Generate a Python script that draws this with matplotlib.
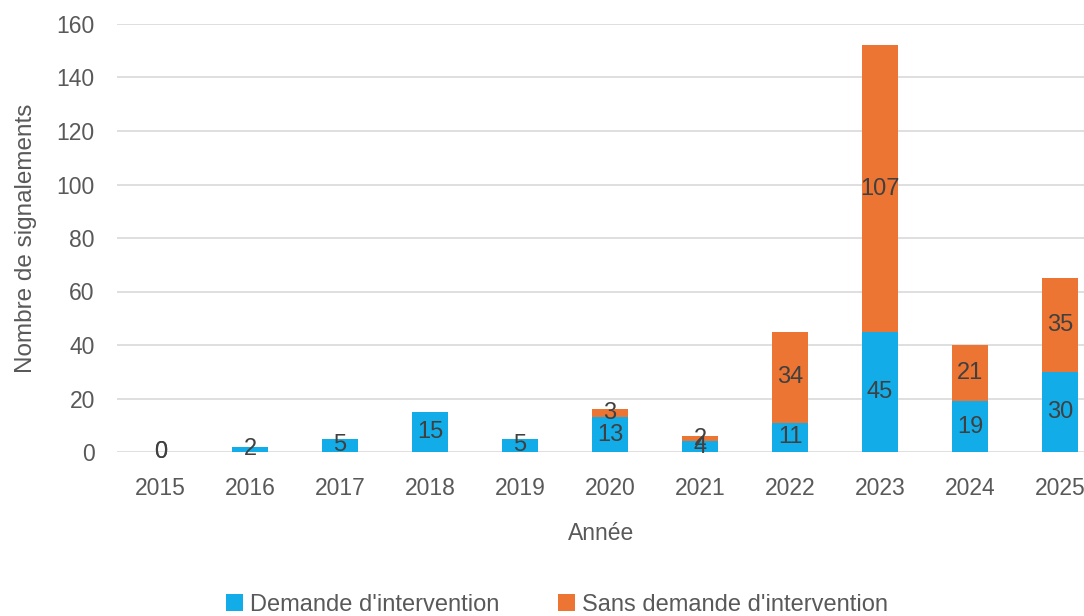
import numpy as np
import matplotlib.pyplot as plt

plt.rcParams['font.family'] = ['Liberation Sans', 'DejaVu Sans']

annees = ['2015', '2016', '2017', '2018', '2019', '2020', '2021', '2022', '2023', '2024', '2025']
demande = [0, 2, 5, 15, 5, 13, 4, 11, 45, 19, 30]
sans_demande = [0, None, None, None, None, 3, 2, 34, 107, 21, 35]

bleu = '#12ADE8'
orange = '#EC7533'
gris_txt = '#595959'
lab_txt = '#404040'

x = np.arange(len(annees))
d = np.array(demande, dtype=float)
s = np.array([v if v is not None else 0 for v in sans_demande], dtype=float)

fig = plt.figure(figsize=(10.84, 6.16), dpi=100)
ax = fig.add_axes([117 / 1084, 1 - 452 / 616, (1085 - 117) / 1084, (452 - 24) / 616])

w = 0.4
b1 = ax.bar(x, d, w, color=bleu, label="Demande d'intervention", zorder=2)
b2 = ax.bar(x, s, w, bottom=d, color=orange, label="Sans demande d'intervention", zorder=2)

# étiquettes au centre de chaque segment
for i in range(len(x)):
    ax.text(x[i], d[i] / 2, str(demande[i]), ha='center', va='center',
            fontsize=17, color=lab_txt, zorder=3)
    if sans_demande[i] is not None:
        ax.text(x[i], d[i] + s[i] / 2, str(sans_demande[i]), ha='center', va='center',
                fontsize=17, color=lab_txt, zorder=3)

ax.set_ylim(0, 160)
ax.set_yticks(range(0, 161, 20))
ax.set_xlim(-0.48, (1085 - 160) / 90)
ax.set_xticks(x)
ax.set_xticklabels(annees)
ax.tick_params(length=0, labelsize=16.5, labelcolor=gris_txt)
ax.tick_params(axis='x', pad=18)
ax.tick_params(axis='y', pad=16)
ax.grid(axis='y', color='#d9d9d9', linewidth=1.2, zorder=0)
for sp in ax.spines.values():
    sp.set_visible(False)

ax.set_xlabel('Année', fontsize=16.5, color=gris_txt, labelpad=16)
ax.set_ylabel('Nombre de signalements', fontsize=17.5, color=gris_txt, labelpad=14)

fig.legend(handles=[b1, b2], loc='center', bbox_to_anchor=(557 / 1084, 1 - 605 / 616),
           ncol=2, frameon=False, fontsize=17, labelcolor=gris_txt,
           handlelength=0.7, handleheight=0.7, handletextpad=0.3, columnspacing=2.5)

fig.savefig('out.png', dpi=100)
